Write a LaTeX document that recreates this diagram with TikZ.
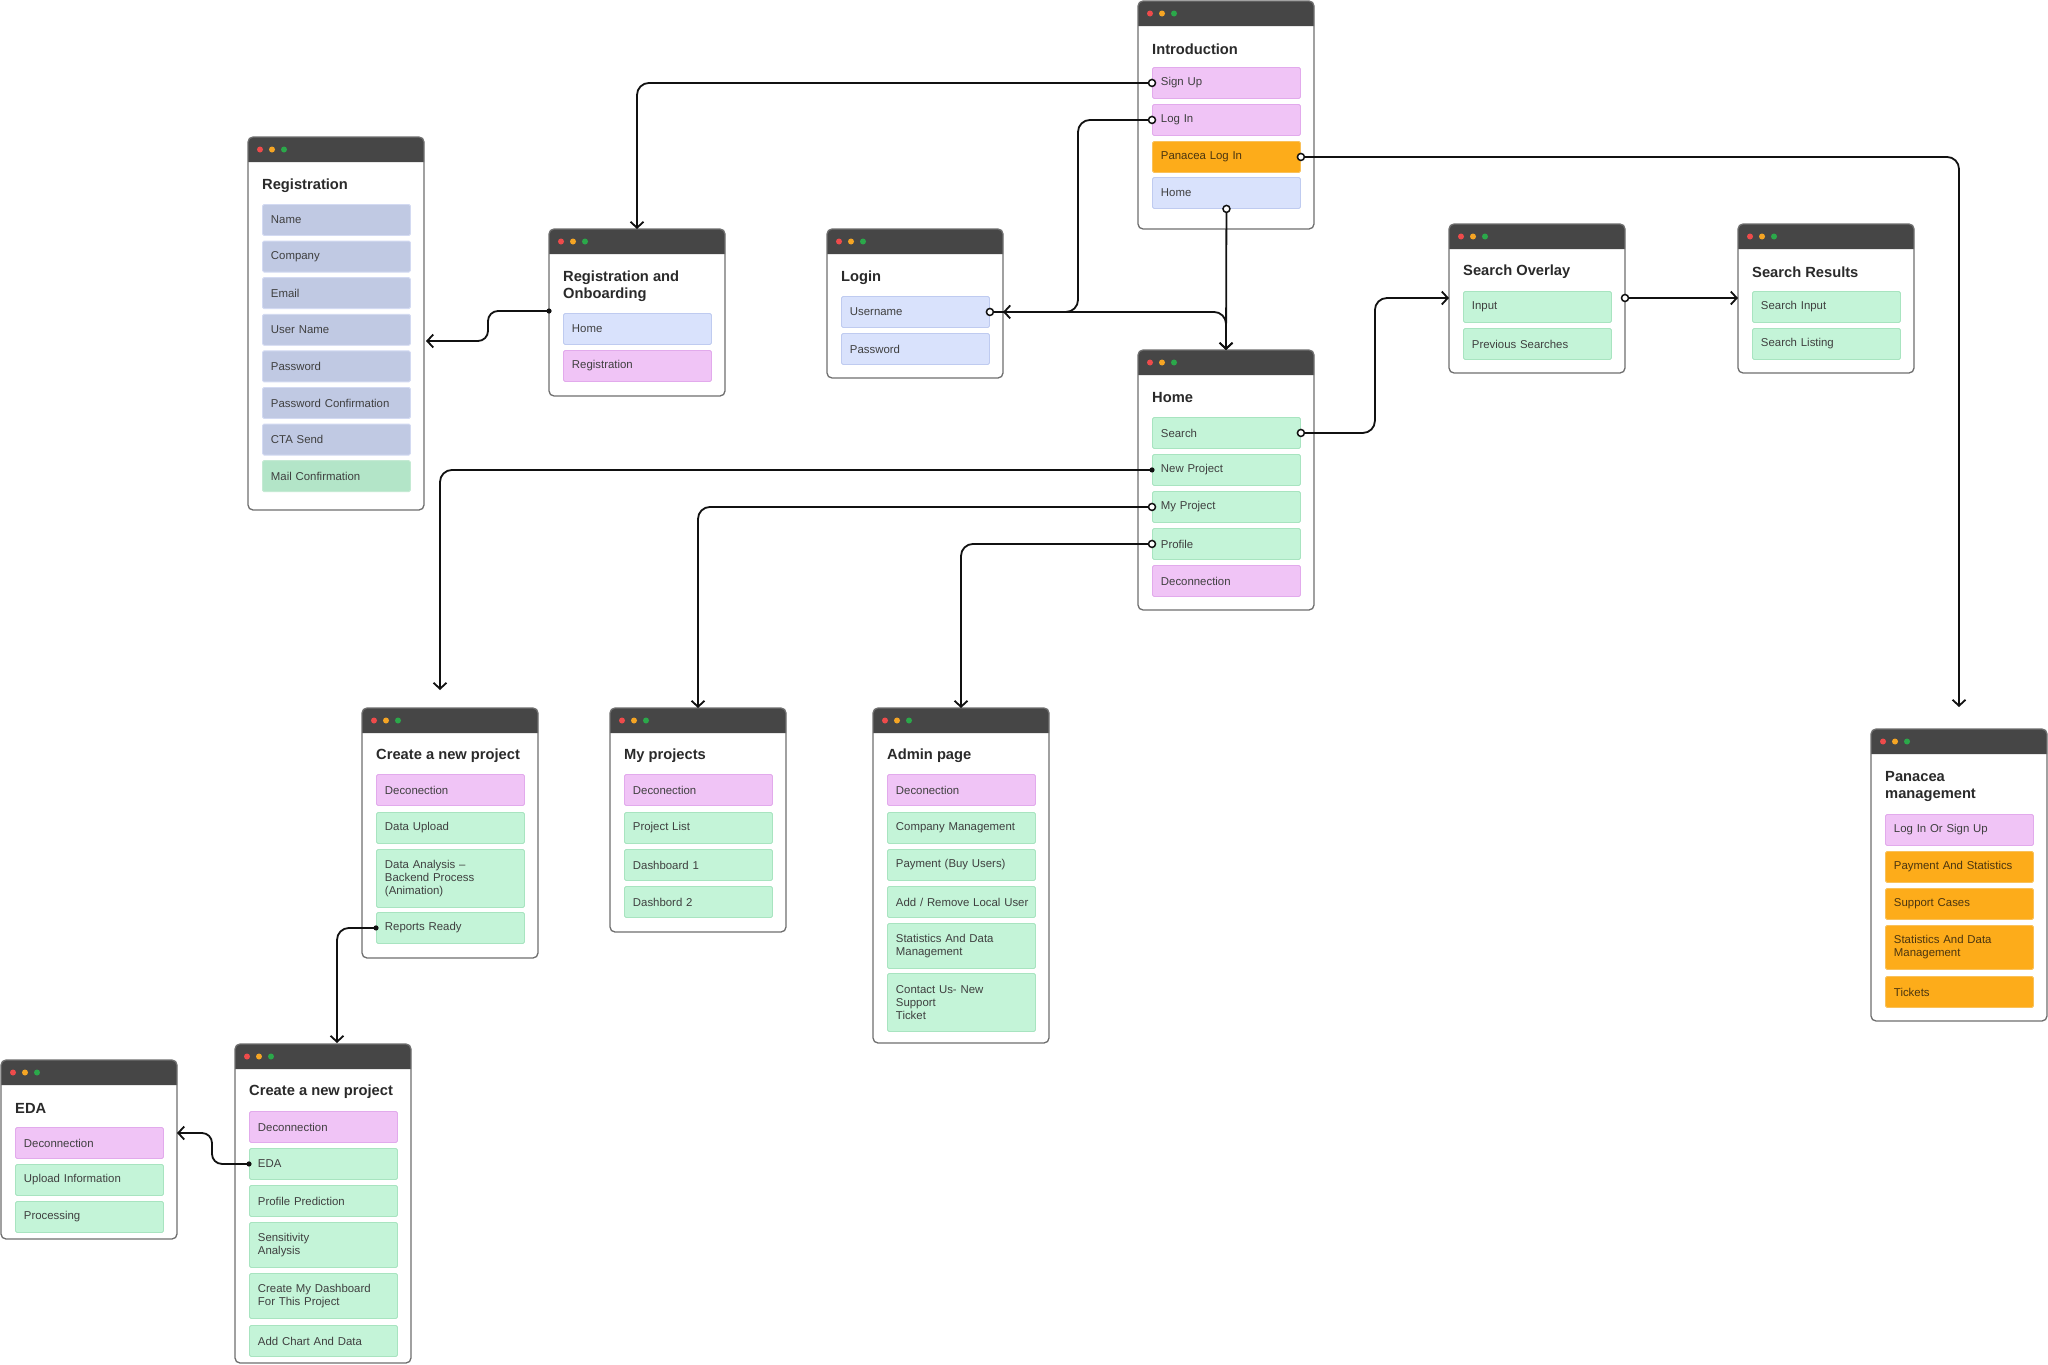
\documentclass[tikz,border=0pt]{standalone}
\usepackage{fontspec}
\setmainfont{Liberation Sans}
\usetikzlibrary{arrows.meta,calc}
\definecolor{barc}{HTML}{464646}
\definecolor{borderc}{HTML}{6E6E6E}
\definecolor{dotr}{HTML}{EE4B4B}
\definecolor{doto}{HTML}{F5A524}
\definecolor{dotg}{HTML}{2BA84A}
\definecolor{pinkf}{HTML}{F0C4F6}
\definecolor{pinkd}{HTML}{E2AAEC}
\definecolor{bluef}{HTML}{D9E2FC}
\definecolor{blued}{HTML}{BFCBF0}
\definecolor{regf}{HTML}{C0C9E3}
\definecolor{regd}{HTML}{D3DAF2}
\definecolor{mailf}{HTML}{B3E5C8}
\definecolor{maild}{HTML}{C4EAD3}
\definecolor{greenf}{HTML}{C4F4D8}
\definecolor{greend}{HTML}{A8E4C0}
\definecolor{orangef}{HTML}{FDAC1A}
\definecolor{oranged}{HTML}{F9C15A}
\definecolor{textc}{HTML}{3F3F3F}
\definecolor{otextc}{HTML}{4A3510}
\definecolor{titlec}{HTML}{2A2A2A}
\definecolor{linec}{HTML}{111111}
\newcommand\itemfont{\fontsize{11.4}{13}\selectfont}
\newcommand\titlefont{\fontsize{14.7}{17}\selectfont\bfseries}
\tikzset{
  winbox/.style={anchor=north west, rectangle, inner sep=0pt, outer sep=0pt, fill=white},
  winline/.style={draw=borderc, line width=1.3pt, rounded corners=5pt},
  wtitle/.style={anchor=west, inner sep=0pt, align=left, font=\titlefont, text=titlec},
  itembase/.style={anchor=north west, rectangle, rounded corners=1.5pt, line width=0.9pt,
     text width=131pt, inner xsep=8.5pt, inner ysep=0pt, minimum height=31pt, align=left,
     font=\itemfont, text=textc},
  pinkitem/.style={itembase, fill=pinkf, draw=pinkd},
  blueitem/.style={itembase, fill=bluef, draw=blued},
  regitem/.style={itembase, fill=regf, draw=regd},
  mailitem/.style={itembase, fill=mailf, draw=maild},
  greenitem/.style={itembase, fill=greenf, draw=greend},
  orangeitem/.style={itembase, fill=orangef, draw=oranged, text=otextc},
  conn/.style={draw=linec, line width=1.8pt, rounded corners=12pt,
     -{Straight Barb[length=6pt,width=13pt]}},
  sconn/.style={conn, rounded corners=10pt},
  opendot/.style={draw=linec, fill=white, line width=1.5pt},
  fulldot/.style={fill=linec},
}
% name, x, top, bottom, title, title y offset
\newcommand\appwin[6]{%
  \pgfmathsetmacro\winh{#4-#3}%
  \node[winbox, minimum width=176pt, minimum height=\winh pt] (#1) at (#2,#3) {};
  \fill[barc] (#1.north west) ++(0,25) [rounded corners=5pt] -- (#1.north west) -- (#1.north east) [sharp corners] -- ++(0,25) -- cycle;
  \draw[winline] (#1.north west) rectangle (#1.south east);
  \fill[dotr] (#1.north west) ++(12,12.5) circle (3pt);
  \fill[doto] (#1.north west) ++(24,12.5) circle (3pt);
  \fill[dotg] (#1.north west) ++(36,12.5) circle (3pt);
  \node[wtitle] (#1t) at ([shift={(14,#6)}]#1.north west) {#5};
}
\begin{document}
\begin{tikzpicture}[x=1pt,y=-1pt]
\useasboundingbox (0,0) rectangle (2048,1365);

% ---------- windows ----------
\appwin{intro}{1138}{1}{229}{Introduction}{48}
\node[pinkitem] (isign) at (1152,67) {Sign Up};
\node[pinkitem] (ilog) at (1152,104) {Log In};
\node[orangeitem] (ipan) at (1152,141) {Panacea Log In};
\node[blueitem] (ihome) at (1152,177) {Home};

\appwin{reg}{248}{137}{510}{Registration}{49}
\node[regitem] (rname) at (262,204) {Name};
\node[regitem] (rcomp) at (262,240.6) {Company};
\node[regitem] (remail) at (262,277.2) {Email};
\node[regitem] (ruser) at (262,313.8) {User Name};
\node[regitem] (rpass) at (262,350.4) {Password};
\node[regitem] (rpconf) at (262,387) {Password Confirmation};
\node[regitem] (rcta) at (262,423.6) {CTA Send};
\node[mailitem] (rmail) at (262,460.2) {Mail Confirmation};

\appwin{onb}{549}{229}{396}{Registration and\\Onboarding}{57.5}
\node[blueitem] (ohome) at (563,313) {Home};
\node[pinkitem] (oreg) at (563,350) {Registration};

\appwin{lgw}{827}{229}{378}{Login}{49}
\node[blueitem] (lusr) at (841,296) {Username};
\node[blueitem] (lpwd) at (841,333) {Password};

\appwin{home}{1138}{350}{610}{Home}{48}
\node[greenitem] (hsearch) at (1152,417) {Search};
\node[greenitem] (hnew) at (1152,454) {New Project};
\node[greenitem] (hmy) at (1152,491) {My Project};
\node[greenitem] (hprof) at (1152,528) {Profile};
\node[pinkitem] (hdec) at (1152,565) {Deconnection};

\appwin{sov}{1449}{224}{373}{Search Overlay}{48}
\node[greenitem] (sinput) at (1463,291) {Input};
\node[greenitem] (sprev) at (1463,328) {Previous Searches};

\appwin{sres}{1738}{224}{373}{Search Results}{48}
\node[greenitem] (rsinput) at (1752,291) {Search Input};
\node[greenitem] (rslist) at (1752,328) {Search Listing};

\appwin{pan}{1871}{729}{1021}{Panacea\\management}{57.5}
\node[pinkitem] (plog) at (1885,814) {Log In Or Sign Up};
\node[orangeitem] (ppay) at (1885,851) {Payment And Statistics};
\node[orangeitem] (psup) at (1885,888) {Support Cases};
\node[orangeitem, minimum height=44pt] (pstat) at (1885,925) {Statistics And Data\\Management};
\node[orangeitem] (ptick) at (1885,976) {Tickets};

\appwin{cnp}{362}{708}{958}{Create a new project}{48}
\node[pinkitem] (cdec) at (376,774) {Deconection};
\node[greenitem] (cup) at (376,812) {Data Upload};
\node[greenitem, minimum height=58pt] (cana) at (376,849) {Data Analysis –\\Backend Process\\(Animation)};
\node[greenitem] (crep) at (376,912) {Reports Ready};

\appwin{myp}{610}{708}{932}{My projects}{48}
\node[pinkitem] (mdec) at (624,774) {Deconection};
\node[greenitem] (mlist) at (624,812) {Project List};
\node[greenitem] (md1) at (624,849) {Dashboard 1};
\node[greenitem] (md2) at (624,886) {Dashbord 2};

\appwin{adm}{873}{708}{1043}{Admin page}{48}
\node[pinkitem] (adec) at (887,774) {Deconection};
\node[greenitem] (acomp) at (887,812) {Company Management};
\node[greenitem] (apay) at (887,849) {Payment (Buy Users)};
\node[greenitem] (aadd) at (887,886) {\makebox[131pt][l]{Add / Remove Local User}};
\node[greenitem, minimum height=45pt] (astat) at (887,923) {Statistics And Data\\Management};
\node[greenitem, minimum height=58pt] (acont) at (887,973) {Contact Us- New\\Support\\Ticket};

\appwin{eda}{1}{1060}{1239}{EDA}{48}
\node[pinkitem] (edec) at (15,1127) {Deconnection};
\node[greenitem] (eup) at (15,1164) {Upload Information};
\node[greenitem] (eproc) at (15,1201) {Processing};

\appwin{cnp2}{235}{1044}{1363}{Create a new project}{48}
\node[pinkitem] (c2dec) at (249,1111) {Deconnection};
\node[greenitem] (c2eda) at (249,1148) {EDA};
\node[greenitem] (c2prof) at (249,1185) {Profile Prediction};
\node[greenitem, minimum height=45pt] (c2sens) at (249,1222) {Sensitivity\\Analysis};
\node[greenitem, minimum height=45pt] (c2dash) at (249,1273) {Create My Dashboard\\For This Project};
\node[greenitem] (c2add) at (249,1325) {Add Chart And Data};

% ---------- connector end points ----------
\coordinate (panA) at ([yshift=22pt]pan.north);
\coordinate (sovL) at (1449,298);
\coordinate (sovR) at (1625,298);
\coordinate (onbL) at (549,311);
\coordinate (regR) at (426,341);
\coordinate (cnpA) at (440,690);
\coordinate (cnp2A) at (337,1043);
\coordinate (edaR) at (177,1133);

% ---------- connectors ----------
\draw[conn] (isign.west) -| (onb.north);
\draw[conn] (ilog.west) -- ++(-74,0) |- (lgw.east |- lusr.east);
\draw[conn] (lusr.east) -| (home.north);
\draw[conn] (ihome.south) -- (home.north);
\draw[conn] (ipan.east) -| (panA);
\draw[conn] (hsearch.east) -- ++(74,0) |- (sovL);
\draw[conn] (sovR) -- (sovR -| sres.west);
\draw[sconn] (onbL) -- ++(-61,0) |- (regR);
\draw[conn] (hnew.west) -| (cnpA);
\draw[conn] (hmy.west) -| (myp.north);
\draw[conn] (hprof.west) -| (adm.north);
\draw[conn] (crep.west) -| (cnp2A);
\draw[sconn] (c2eda.west) -- ++(-37,0) |- (edaR);

% ---------- markers ----------
\foreach \p in {isign.west, ilog.west, ipan.east, ihome.south, lusr.east, hsearch.east, hmy.west, hprof.west, sovR}
  \draw[opendot] (\p) circle (3.5pt);
\foreach \p in {onbL, hnew.west, crep.west, c2eda.west}
  \fill[fulldot] (\p) circle (2.6pt);
\end{tikzpicture}
\end{document}
